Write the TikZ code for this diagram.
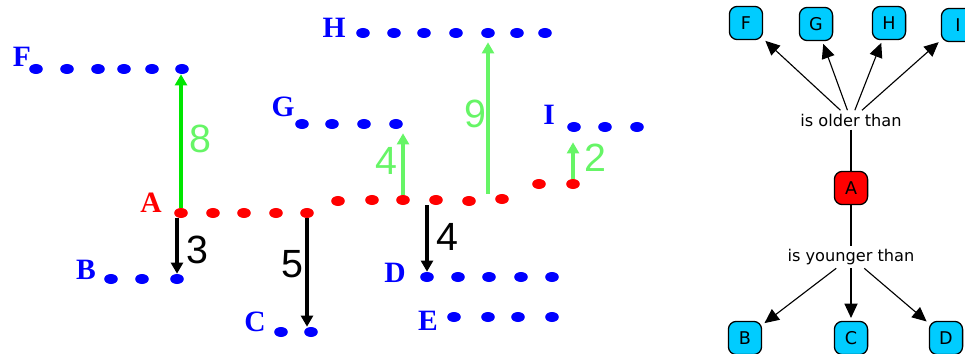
\documentclass[tikz,border=0pt]{standalone}
\usepackage{fontspec}
\setmainfont{Liberation Serif}
\newfontfamily\mapfont{DejaVu Sans}
\newfontfamily\numfont{Liberation Sans}
\usetikzlibrary{arrows.meta, positioning, shapes.geometric}
\definecolor{cBlue}{RGB}{0,0,255}
\definecolor{cRed}{RGB}{255,0,0}
\definecolor{cGreen}{RGB}{0,230,0}
\definecolor{cLight}{RGB}{102,245,102}
\definecolor{cCyan}{RGB}{0,204,255}
\tikzset{
	bdot/.style   ={ellipse, fill=cBlue, inner sep=0pt, minimum width=0.34cm, minimum height=0.25cm},
	rdot/.style   ={bdot, fill=cRed},
	lbl/.style    ={font=\fontsize{21}{22}\selectfont\bfseries, text=cBlue, inner sep=0pt},
	num/.style    ={font=\numfont\fontsize{28}{30}\selectfont, inner sep=0pt},
	gup/.style    ={-{Triangle[length=0.28cm, width=0.3cm]}, line width=2.8pt, cLight},
	bdown/.style  ={gup, black},
	% concept map on the right
	cbox/.style   ={rectangle, rounded corners=0.2cm, draw=black, line width=0.9pt, fill=cCyan,
		minimum size=0.83cm, inner sep=0pt, font=\mapfont\fontsize{12.5}{13}\selectfont},
	link/.style   ={font=\mapfont\fontsize{11.5}{12}\selectfont, inner sep=0.08cm},
	rel/.style    ={-{Triangle[length=0.36cm, width=0.33cm]}, line width=0.8pt},
}
\begin{document}
\begin{tikzpicture}[x=0.025cm, y=-0.025cm]
	\useasboundingbox (0,0) rectangle (965,354);
	% time lines
	\foreach \x [count=\i] in {36,67,98,124,152,182} \node[bdot] (f\i) at (\x,69) {};
	\foreach \x [count=\i] in {302,332,364,396} \node[bdot] (g\i) at (\x,124) {};
	\foreach \x [count=\i] in {363,394,424,456,488,517,545} \node[bdot] (h\i) at (\x,33) {};
	\foreach \x [count=\i] in {574,605,637} \node[bdot] (i\i) at (\x,127) {};
	\foreach \x/\y [count=\i] in {181/213,213/213,244/213,276/213,307/213,338/201,372/200,
		403/200,436/200,469/201,502/199,539/184,573/184} \node[rdot] (a\i) at (\x,\y) {};
	\foreach \x [count=\i] in {111,142,177} \node[bdot] (b\i) at (\x,279) {};
	\foreach \x [count=\i] in {281,311} \node[bdot] (c\i) at (\x,332) {};
	\foreach \x [count=\i] in {427,458,489,521,552} \node[bdot] (d\i) at (\x,277) {};
	\foreach \x [count=\i] in {454,488,518,552} \node[bdot] (e\i) at (\x,317) {};
	\node[lbl] (lf) at (22,57) {F};
	\node[lbl] (lg) at (283,107) {G};
	\node[lbl] (lh) at (334,28) {H};
	\node[lbl] (li) at (549,115) {I};
	\node[lbl, text=cRed] (la) at (151,203) {A};
	\node[lbl] (lb) at (86,270) {B};
	\node[lbl] (lc) at (255,322) {C};
	\node[lbl] (ld) at (395,273) {D};
	\node[lbl] (le) at (428,321) {E};
	% age differences
	\draw[gup, cGreen, line width=3.4pt] (a1.north) -- (a1 |- f6.south);
	\draw[gup, shorten >=0.1cm] (a8.north) -- (a8 |- g4.south);
	\draw[gup, shorten >=0.1cm] (h5 |- a11.north) -- (h5.south);
	\draw[gup, shorten >=0.25cm] (a13.north) -- (a13 |- i1.south);
	\draw[bdown] (b3 |- a1.south) -- (b3.north);
	\draw[bdown] (a5.south) -- (a5 |- c2.north);
	\draw[bdown] (d1 |- a9.south) -- (d1.north);
	\node[num, text=cLight] (n8) at (200,139) {8};
	\node[num, text=cLight] (n4g) at (386,161) {4};
	\node[num, text=cLight] (n9) at (475,114) {9};
	\node[num, text=cLight] (n2) at (595,158) {2};
	\node[num] (n3) at (197,250) {3};
	\node[num] (n5) at (292,264) {5};
	\node[num] (n4) at (447,237) {4};
	% concept map
	\node[cbox] (mf) at (746,23) {F};
	\node[cbox] (mg) at (816,24) {G};
	\node[cbox] (mh) at (889,23) {H};
	\node[cbox] (mi) at (958,25) {I};
	\node[link] (older) at (851,120) {is older than};
	\node[cbox, fill=cRed] (ma) at (851,188) {A};
	\node[link] (younger) at (851,257) {is younger than};
	\node[cbox] (mb) at (745,338) {B};
	\node[cbox] (mc) at (851,338) {C};
	\node[cbox] (md) at (946,338) {D};
	\foreach \t in {mf,mg,mh,mi} \draw[rel, shorten >=2pt] (older) -- (\t);
	\draw[line width=0.8pt] (older) -- (ma);
	\draw[line width=0.8pt] (ma) -- (younger);
	\foreach \t in {mb,mc,md} \draw[rel, shorten >=2pt] (younger) -- (\t);
\end{tikzpicture}
\end{document}
